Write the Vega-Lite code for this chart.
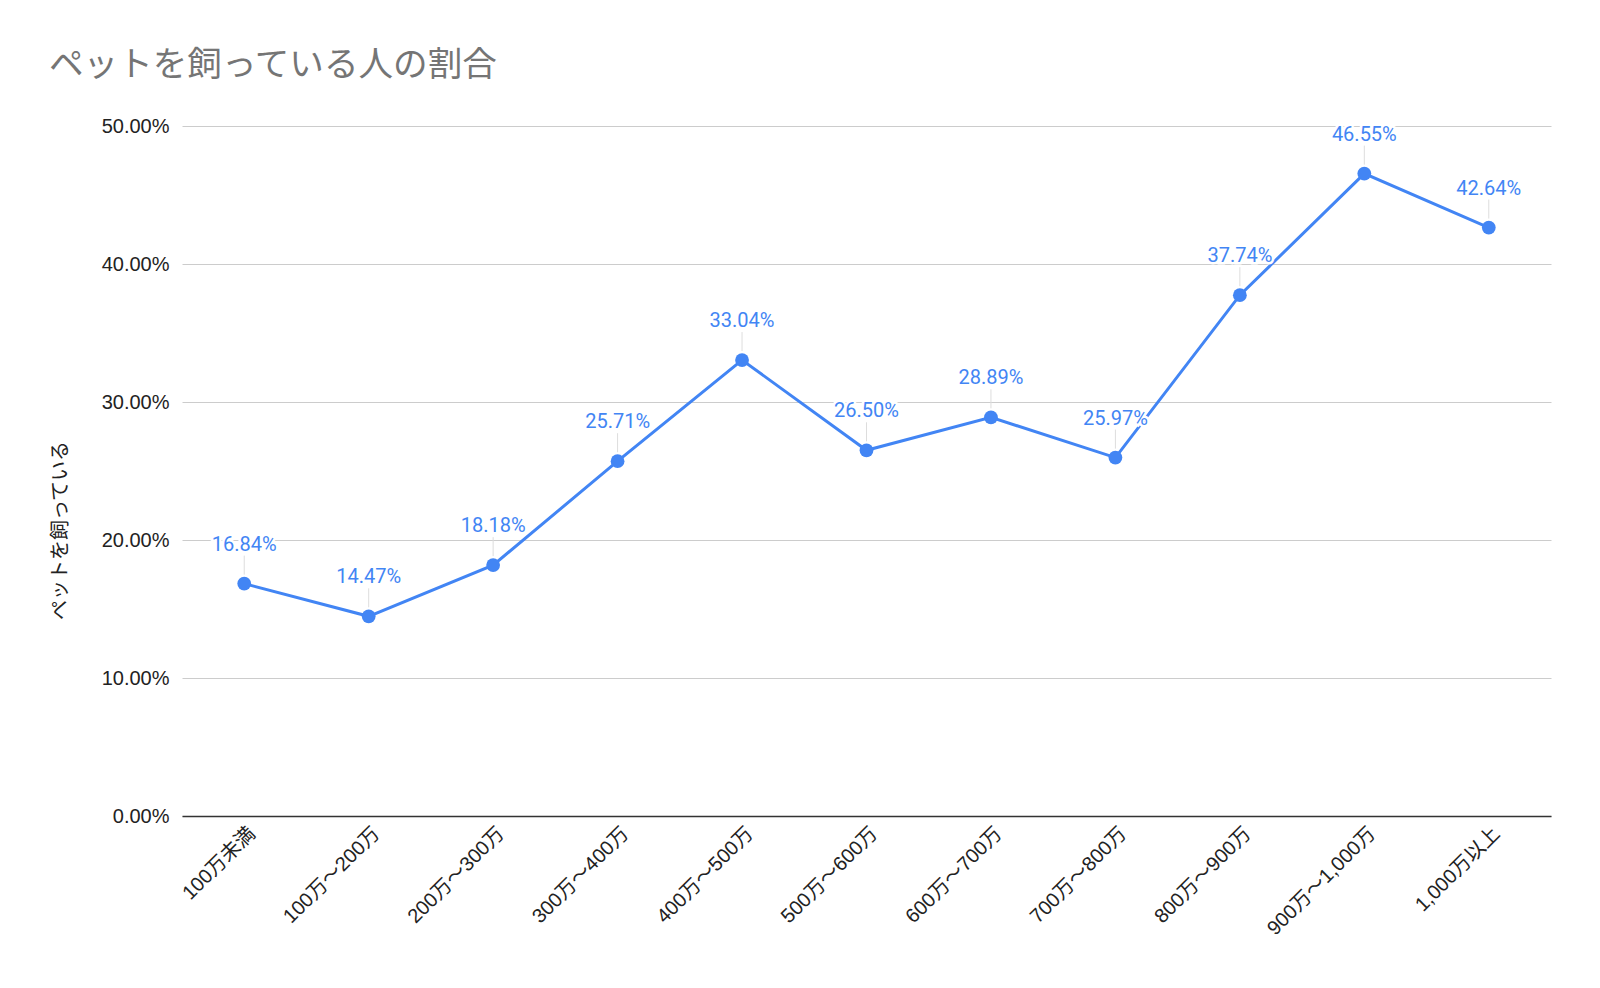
{
  "$schema": "https://vega.github.io/schema/vega-lite/v6.json",
  "width": 1369,
  "height": 690,
  "autosize": {"type": "none"},
  "padding": {"left": 182, "top": 126, "right": 49, "bottom": 172},
  "background": "white",
  "title": {
    "text": "ペットを飼っている人の割合",
    "anchor": "start",
    "frame": "group",
    "dx": -133,
    "offset": 32,
    "font": "Noto Sans CJK JP",
    "fontSize": 34.6,
    "fontWeight": "normal",
    "color": "#757575"
  },
  "config": {
    "view": {"stroke": null},
    "font": "Liberation Sans, Noto Sans CJK JP"
  },
  "data": {
    "values": [
      {"income": "100万未満", "rate": 0.1684},
      {"income": "100万〜200万", "rate": 0.1447},
      {"income": "200万〜300万", "rate": 0.1818},
      {"income": "300万〜400万", "rate": 0.2571},
      {"income": "400万〜500万", "rate": 0.3304},
      {"income": "500万〜600万", "rate": 0.2650},
      {"income": "600万〜700万", "rate": 0.2889},
      {"income": "700万〜800万", "rate": 0.2597},
      {"income": "800万〜900万", "rate": 0.3774},
      {"income": "900万〜1,000万", "rate": 0.4655},
      {"income": "1,000万以上", "rate": 0.4264}
    ]
  },
  "encoding": {
    "x": {
      "field": "income",
      "type": "nominal",
      "sort": null,
      "scale": {"paddingInner": 0, "paddingOuter": 0},
      "axis": {
        "title": null,
        "labelAngle": -45,
        "labelAlign": "right",
        "labelBaseline": "middle",
        "labelFontSize": 20,
        "labelColor": "#222222",
        "labelPadding": 14,
        "labelOffset": 8,
        "ticks": false,
        "domainColor": "#333333",
        "domainWidth": 1.5,
        "grid": false
      }
    },
    "y": {
      "field": "rate",
      "type": "quantitative",
      "scale": {"domain": [0, 0.5]},
      "axis": {
        "title": "ペットを飼っている",
        "titleFont": "Noto Sans CJK JP",
        "titleFontSize": 20,
        "titleFontWeight": "normal",
        "titleColor": "#222222",
        "titleX": -112,
        "titleY": 404,
        "format": ".2%",
        "values": [0, 0.1, 0.2, 0.3, 0.4, 0.5],
        "labelFontSize": 20,
        "labelColor": "#222222",
        "labelPadding": 13,
        "ticks": false,
        "domain": false,
        "gridColor": "#cccccc",
        "gridWidth": 1
      }
    }
  },
  "layer": [
    {
      "mark": {"type": "rule", "color": "#dddddd", "strokeWidth": 1, "yOffset": -9, "y2Offset": -28},
      "encoding": {"y2": {"field": "rate"}}
    },
    {
      "mark": {"type": "line", "color": "#4285F4", "strokeWidth": 3}
    },
    {
      "mark": {"type": "point", "filled": true, "opacity": 1, "color": "#4285F4", "size": 190}
    },
    {
      "mark": {"type": "text", "font": "Roboto", "fontSize": 20, "baseline": "middle", "dy": -39, "fill": "white", "stroke": "white", "strokeWidth": 5},
      "encoding": {"text": {"field": "rate", "type": "quantitative", "format": ".2%"}}
    },
    {
      "mark": {"type": "text", "font": "Roboto", "fontSize": 20, "baseline": "middle", "dy": -39, "color": "#4285F4"},
      "encoding": {"text": {"field": "rate", "type": "quantitative", "format": ".2%"}}
    }
  ]
}
